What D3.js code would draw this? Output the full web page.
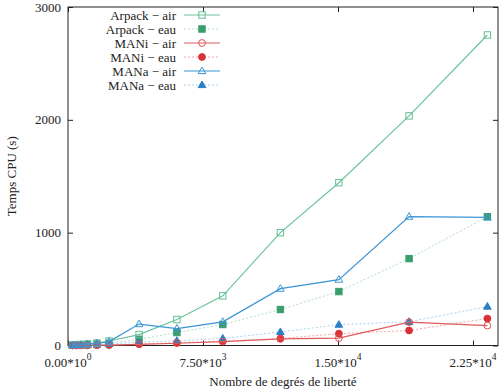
<!DOCTYPE html>
<html>
<head>
<meta charset="utf-8">
<script src="https://cdn.jsdelivr.net/npm/d3@7"></script>
<style>
body { margin: 0; background: #fff; }
text { font-family: "Liberation Serif", "DejaVu Serif", serif; fill: #222; }
</style>
</head>
<body>
<div id="chart"></div>
<script>
// degrees of freedom
var xValues = [250, 470, 720, 1080, 1610, 2280, 3950, 6050, 8600, 11800, 15050, 18950, 23300];
// CPU time (s)
var arpackAir = [4, 6, 9, 14, 22, 40, 97, 230, 440, 1000, 1443, 2035, 2752];
var arpackEau = [2, 3, 5, 8, 12, 20, 55, 115, 186, 319, 478, 770, 1142];
var maniAir = [1, 1, 2, 2, 3, 4, 10, 20, 35, 58, 65, 207, 177];
var maniEau = [1, 1, 2, 2, 3, 4, 12, 25, 38, 62, 105, 133, 239];
var manaAir = [3, 5, 8, 12, 20, 35, 190, 150, 210, 504, 584, 1142, 1135];
var manaEau = [2, 3, 4, 6, 9, 14, 30, 42, 62, 120, 185, 210, 345];

var xTicks = [0, 7500, 15000, 22500];
var xTickMant = ["0.00", "7.50", "1.50", "2.25"];
var xTickExp = ["0", "3", "4", "4"];
var yTicks = [0, 1000, 2000, 3000];

var series = [
  {name: "Arpack \u2212 air", values: arpackAir, shape: "square", filled: false, color: "#62bf95", line: "#6cc39c", dash: null},
  {name: "Arpack \u2212 eau", values: arpackEau, shape: "square", filled: true, color: "#3a9d6c", line: "#b3ddc8", dash: "2,2"},
  {name: "MANi \u2212 air", values: maniAir, shape: "circle", filled: false, color: "#e05050", line: "#e05a5a", dash: null},
  {name: "MANi \u2212 eau", values: maniEau, shape: "circle", filled: true, color: "#d83238", line: "#f2a6a6", dash: "2,2"},
  {name: "MANa \u2212 air", values: manaAir, shape: "triangle", filled: false, color: "#3a95d6", line: "#3a95d6", dash: null},
  {name: "MANa \u2212 eau", values: manaEau, shape: "triangle", filled: true, color: "#2a7fc6", line: "#acd4f1", dash: "2,2"}
];

var W = 501, H = 391;
var pLeft = 68, pRight = 498, pTop = 7, pBottom = 345.5;

var svg = d3.select("#chart").append("svg")
  .attr("width", W)
  .attr("height", H);

var x = d3.scaleLinear().domain([0, 23890]).range([pLeft, pRight]);
var y = d3.scaleLinear().domain([0, 3000]).range([pBottom, pTop]);

// frame
svg.append("rect")
  .attr("x", pLeft).attr("y", pTop)
  .attr("width", pRight - pLeft).attr("height", pBottom - pTop)
  .attr("fill", "none").attr("stroke", "#222").attr("stroke-width", 1);

// inward ticks on all four sides
var tk = 5;
function tickLines(g) {
  g.select(".domain").remove();
  g.selectAll(".tick line").attr("stroke", "#222");
  g.selectAll(".tick text").remove();
}
svg.append("g").attr("transform", "translate(0," + pBottom + ")")
  .call(d3.axisBottom(x).tickValues(xTicks).tickSize(-tk)).call(tickLines);
svg.append("g").attr("transform", "translate(0," + pTop + ")")
  .call(d3.axisTop(x).tickValues(xTicks).tickSize(-tk)).call(tickLines);
svg.append("g").attr("transform", "translate(" + pLeft + ",0)")
  .call(d3.axisLeft(y).tickValues(yTicks).tickSize(-tk)).call(tickLines);
svg.append("g").attr("transform", "translate(" + pRight + ",0)")
  .call(d3.axisRight(y).tickValues(yTicks).tickSize(-tk)).call(tickLines);

// x tick labels with superscript exponent
xTicks.forEach(function(v, i) {
  var t = svg.append("text")
    .attr("x", x(v)).attr("y", 367)
    .attr("text-anchor", "middle")
    .attr("font-size", "13px");
  t.append("tspan").text(xTickMant[i] + "*10");
  t.append("tspan").attr("dy", -7).attr("font-size", "9.5px").text(xTickExp[i]);
});

// y tick labels
svg.selectAll(".ylab")
  .data(yTicks)
  .enter()
  .append("text")
  .attr("class", "ylab")
  .attr("x", 61)
  .attr("y", function(d) { return y(d) + 4.5; })
  .attr("text-anchor", "end")
  .attr("font-size", "13px")
  .text(function(d) { return d; });

// axis titles
svg.append("text")
  .attr("x", (pLeft + pRight) / 2).attr("y", 386)
  .attr("text-anchor", "middle").attr("font-size", "13px")
  .text("Nombre de degrés de liberté");
svg.append("text")
  .attr("transform", "translate(16," + ((pTop + pBottom) / 2) + ") rotate(-90)")
  .attr("text-anchor", "middle").attr("font-size", "13px")
  .text("Temps CPU (s)");

function drawMarker(g, s, cx, cy) {
  if (s.shape == "square") {
    g.append("rect").attr("x", cx - 3.2).attr("y", cy - 3.2)
      .attr("width", 6.4).attr("height", 6.4)
      .attr("fill", s.filled ? s.color : "none").attr("stroke", s.color).attr("stroke-width", 1);
  } else if (s.shape == "circle") {
    g.append("circle").attr("cx", cx).attr("cy", cy).attr("r", 3.4)
      .attr("fill", s.filled ? s.color : "none").attr("stroke", s.color).attr("stroke-width", 1);
  } else {
    g.append("path")
      .attr("d", "M" + cx + "," + (cy - 4) + "L" + (cx + 3.8) + "," + (cy + 2.6) + "L" + (cx - 3.8) + "," + (cy + 2.6) + "Z")
      .attr("fill", s.filled ? s.color : "none").attr("stroke", s.color).attr("stroke-width", 1);
  }
}

var line = d3.line()
  .x(function(d, i) { return x(xValues[i]); })
  .y(function(d) { return y(d); });

// draw eau series first, air on top
var order = [1, 3, 5, 0, 2, 4];
order.forEach(function(k) {
  var s = series[k];
  var g = svg.append("g");
  g.append("path")
    .attr("d", line(s.values))
    .attr("fill", "none")
    .attr("stroke", s.line)
    .attr("stroke-width", s.dash ? 1 : 1.2)
    .attr("stroke-dasharray", s.dash);
  s.values.forEach(function(v, i) {
    drawMarker(g, s, x(xValues[i]), y(v));
  });
});

// legend
var leg = svg.append("g");
series.forEach(function(s, i) {
  var ly = 15 + i * 14;
  leg.append("text")
    .attr("x", 176).attr("y", ly + 4.5)
    .attr("text-anchor", "end").attr("font-size", "13px")
    .text(s.name);
  leg.append("line")
    .attr("x1", 184).attr("x2", 220)
    .attr("y1", ly).attr("y2", ly)
    .attr("stroke", s.line)
    .attr("stroke-width", s.dash ? 1 : 1.2)
    .attr("stroke-dasharray", s.dash);
  drawMarker(leg, s, 202, ly);
});
</script>
</body>
</html>
